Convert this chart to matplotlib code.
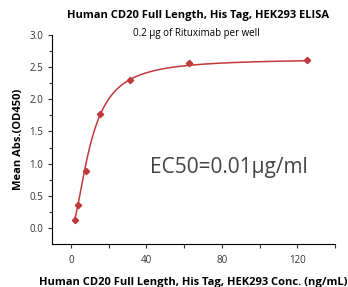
import numpy as np
from matplotlib import pyplot as plt

plt.rcParams['font.family'] = ['Open Sans', 'DejaVu Sans']

conc = [1.95, 3.9, 7.8, 15.6, 31.25, 62.5, 125.0]   # ng/mL
od450 = [0.124, 0.36, 0.887, 1.766, 2.297, 2.566, 2.607]

# 4PL fit parameters
bottom = 0.0
top = 2.63
ec50 = 10.5
hill = 1.8

red = '#c0393b'

fig = plt.figure(figsize=(3.48, 2.87), dpi=100)
ax = fig.add_axes([0.1494, 0.1498, 0.8132, 0.7282])

xs = np.linspace(conc[0], conc[-1], 400)
fit = bottom + (top - bottom) / (1 + (ec50 / xs) ** hill)
ax.plot(xs, fit, color=red, linewidth=1.1)
ax.plot(conc, od450, 'D', color=red, markersize=3.2)

ax.set_xlim(-10, 140)
ax.set_ylim(-0.25, 3.0)
ax.set_xticks(np.arange(0, 141, 20))
ax.set_xticklabels(['0', '', '40', '', '80', '', '120', ''])
ax.set_yticks(np.arange(0, 3.01, 0.5))
ax.set_yticks(np.arange(0, 3.01, 0.25), minor=True)
ax.tick_params(labelsize=7, colors='#333333', length=3, width=0.8)
ax.tick_params(which='minor', length=2.5, width=0.8, colors='#333333')
ax.tick_params(axis='x', pad=5)
for s in ['top', 'right']:
    ax.spines[s].set_visible(False)

ax.set_ylabel('Mean Abs.(OD450)', fontsize=8, fontweight='bold')
ax.set_xlabel('Human CD20 Full Length, His Tag, HEK293 Conc. (ng/mL)',
              fontsize=8, fontweight='bold', labelpad=8)
fig.text(0.57, 0.945, 'Human CD20 Full Length, His Tag, HEK293 ELISA',
         ha='center', va='center', fontsize=8, fontweight='bold')
fig.text(0.565, 0.885, '0.2 \u03bcg of Rituximab per well',
         ha='center', va='center', fontsize=7)
ax.text(0.346, 0.368, 'EC50=0.01\u03bcg/ml', transform=ax.transAxes,
        fontsize=15, color='#444444', ha='left', va='center')

fig.savefig('out.png', dpi=100)
